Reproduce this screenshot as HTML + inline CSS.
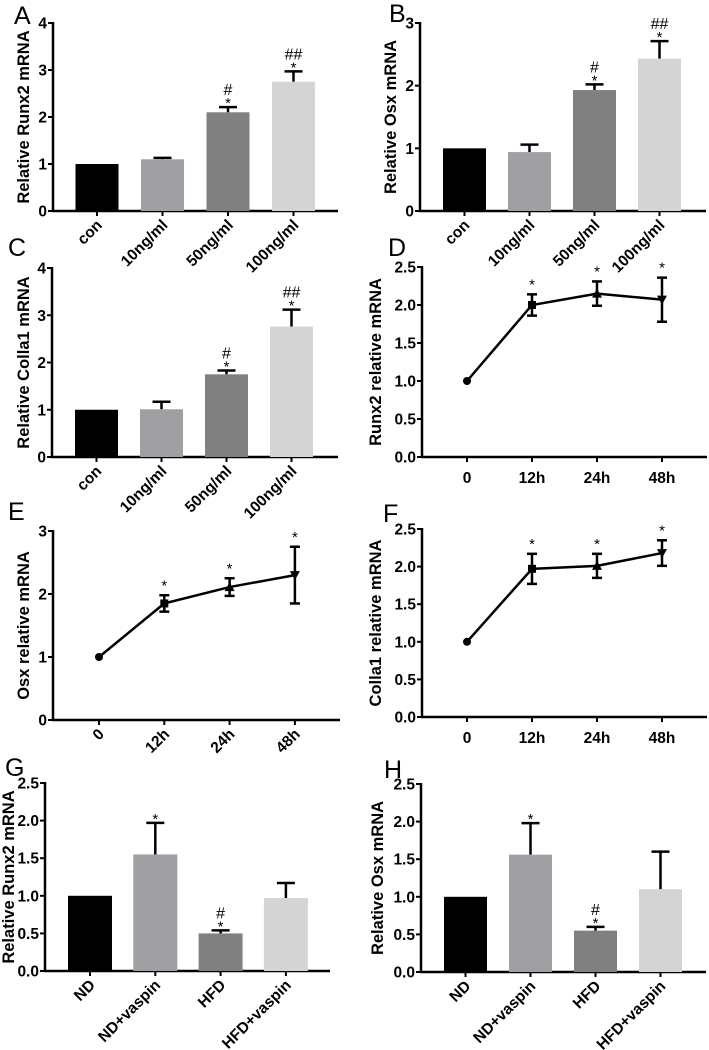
<!DOCTYPE html>
<html><head><meta charset="utf-8"><style>
html,body{margin:0;padding:0;background:#fff;}
svg{display:block;font-family:"Liberation Sans",Arial,sans-serif;}
</style></head><body>
<svg id="fig" width="709" height="1050" viewBox="0 0 709 1050"></svg>
<script>
// ---- data ----
const doseCats = ["con","10ng/ml","50ng/ml","100ng/ml"];
const timeCats = ["0","12h","24h","48h"];
const dietCats = ["ND","ND+vaspin","HFD","HFD+vaspin"];
const runx2Dose = [1, 1.1, 2.1, 2.75];
const runx2DoseErr = [0, 0.03, 0.11, 0.22];
const osxDose = [1, 0.94, 1.93, 2.43];
const osxDoseErr = [0, 0.12, 0.09, 0.28];
const collaDose = [1, 1.01, 1.75, 2.76];
const collaDoseErr = [0, 0.16, 0.08, 0.36];
const runx2Time = [1, 2.0, 2.15, 2.07];
const runx2TimeErr = [0, 0.14, 0.16, 0.29];
const osxTime = [1, 1.85, 2.11, 2.3];
const osxTimeErr = [0, 0.13, 0.14, 0.45];
const collaTime = [1, 1.97, 2.01, 2.18];
const collaTimeErr = [0, 0.2, 0.16, 0.17];
const runx2Diet = [1, 1.55, 0.5, 0.97];
const runx2DietErr = [0, 0.42, 0.04, 0.2];
const osxDiet = [1, 1.56, 0.55, 1.1];
const osxDietErr = [0, 0.42, 0.05, 0.5];
const ticks4 = ["0","1","2","3","4"];
const ticks3 = ["0","1","2","3"];
const ticks25 = ["0.0","0.5","1.0","1.5","2.0","2.5"];
const doseSig = [["",""],["",""],["*","#"],["*","##"]];
const timeSig = [["",""],["*",""],["*",""],["*",""]];
const dietSig = [["",""],["*",""],["*","#"],["",""]];
const barColors = ["#000000","#a0a0a4","#808080","#d4d4d4"];

const NS="http://www.w3.org/2000/svg";
const svg=document.getElementById('fig');
function mk(tag,attrs,parent){const e=document.createElementNS(NS,tag);for(const k in attrs)e.setAttribute(k,attrs[k]);(parent||svg).appendChild(e);return e;}

function panel(o){
  const g=mk('g',{});
  
  
  const maxV=parseFloat(o.ticks[o.ticks.length-1]);
  const y=v=>o.y0-(v/maxV)*(o.y0-o.yTop);
  const x=i=>o.xFirst+i*o.step;
  const L=mk('text',{x:o.lx,y:o.ly,'font-size':25,fill:'#000'},g);L.textContent=o.letter;
  
  
  const ya=mk('line',{x1:o.ax,y1:o.yTop-1,x2:o.ax,y2:o.y0+1,stroke:'#000','stroke-width':2.5},g);
  
  
  o.ticks.forEach(t=>{const v=parseFloat(t);const yy=y(v);
    mk('line',{x1:o.ax-5,y1:yy,x2:o.ax,y2:yy,stroke:'#000','stroke-width':2},g);
    const tt=mk('text',{x:o.ax-6,y:yy+5.5,'font-size':15.5,'font-weight':'bold','text-anchor':'end'},g);tt.textContent=t;
    
    
  });
  const yt=mk('text',{x:0,y:0,'font-size':16.5,'font-weight':'bold','text-anchor':'middle',transform:`translate(${o.titleX},${(o.y0+o.yTop)/2}) rotate(-90)`},g);
  yt.textContent=o.title;
  
  
  const xa=mk('line',{x1:o.ax-1,y1:o.y0,x2:o.xEnd,y2:o.y0,stroke:'#000','stroke-width':2.5},g);
  
  
  o.cats.forEach((c,i)=>{const cx=x(i);
    mk('line',{x1:cx,y1:o.y0,x2:cx,y2:o.y0+5,stroke:'#000','stroke-width':2},g);
    let t;
    if(o.rot){t=mk('text',{x:0,y:0,'font-size':15.5,'font-weight':'bold','text-anchor':'end',transform:`translate(${cx+6},${o.y0+15}) rotate(-45)`},g);}
    else{t=mk('text',{x:cx,y:o.y0+26,'font-size':15.5,'font-weight':'bold','text-anchor':'middle'},g);}
    t.textContent=c;
    
    
  });
  if(o.type==='bar'){
    o.vals.forEach((v,i)=>{const cx=x(i),top=y(v+o.err[i]);
      if(o.err[i]>0){mk('line',{x1:cx,y1:y(v),x2:cx,y2:top,stroke:'#000','stroke-width':2.5},g);
        mk('line',{x1:cx-9,y1:top,x2:cx+9,y2:top,stroke:'#000','stroke-width':2.5},g);}
      const b=mk('rect',{x:cx-o.bw/2,y:y(v),width:o.bw,height:o.y0-y(v),fill:barColors[i]},g);
      
      
      drawSig(g,o.sig[i],cx,top);
    });
  } else {
    let pts=o.vals.map((v,i)=>x(i)+','+y(v)).join(' ');
    const pl=mk('polyline',{points:pts,fill:'none',stroke:'#000','stroke-width':2.5},g);
    
    
    o.vals.forEach((v,i)=>{const cx=x(i),cy=y(v);
      if(o.err[i]>0){const a=y(v+o.err[i]),b=y(v-o.err[i]);
        mk('line',{x1:cx,y1:a,x2:cx,y2:b,stroke:'#000','stroke-width':2.5},g);
        mk('line',{x1:cx-5,y1:a,x2:cx+5,y2:a,stroke:'#000','stroke-width':2.5},g);
        mk('line',{x1:cx-5,y1:b,x2:cx+5,y2:b,stroke:'#000','stroke-width':2.5},g);}
      let m;
      if(i===0)m=mk('circle',{cx:cx,cy:cy,r:4},g);
      else if(i===1)m=mk('rect',{x:cx-4,y:cy-4,width:8,height:8},g);
      else if(i===2)m=mk('polygon',{points:`${cx},${cy-5} ${cx-5},${cy+4} ${cx+5},${cy+4}`},g);
      else m=mk('polygon',{points:`${cx},${cy+5} ${cx-5},${cy-4} ${cx+5},${cy-4}`},g);
      
      
      drawSig(g,o.sig[i],cx,y(v+o.err[i])-6);
    });
  }
}
function drawSig(g,s,cx,top){
  if(s[0]){const t=mk('text',{x:cx,y:top+1,'font-size':15,'text-anchor':'middle'},g);t.textContent=s[0];
    
    }
  if(s[1]){const t=mk('text',{x:cx,y:top-12,'font-size':16,'text-anchor':'middle'},g);t.textContent=s[1];
    
    }
}

panel({name:'panel-a',letter:'A',lx:14,ly:24,type:'bar',cats:doseCats,vals:runx2Dose,err:runx2DoseErr,sig:doseSig,ticks:ticks4,ax:53,yTop:23,y0:211,xEnd:338,xFirst:97,step:65.5,bw:43,rot:true,title:'Relative Runx2 mRNA',titleX:29});
panel({name:'panel-b',letter:'B',lx:389,ly:22,type:'bar',cats:doseCats,vals:osxDose,err:osxDoseErr,sig:doseSig,ticks:ticks3,ax:420,yTop:23,y0:211,xEnd:706,xFirst:464.5,step:65,bw:43,rot:true,title:'Relative Osx mRNA',titleX:396});
panel({name:'panel-c',letter:'C',lx:8,ly:256,type:'bar',cats:doseCats,vals:collaDose,err:collaDoseErr,sig:doseSig,ticks:ticks4,ax:52,yTop:268,y0:457,xEnd:338,xFirst:96.5,step:65,bw:43,rot:true,title:'Relative Colla1 mRNA',titleX:29});
panel({name:'panel-d',letter:'D',lx:388,ly:256,type:'line',cats:timeCats,vals:runx2Time,err:runx2TimeErr,sig:timeSig,ticks:ticks25,ax:422,yTop:267,y0:457,xEnd:707,xFirst:467,step:65,rot:false,title:'Runx2 relative mRNA',titleX:381});
panel({name:'panel-e',letter:'E',lx:8,ly:520,type:'line',cats:timeCats,vals:osxTime,err:osxTimeErr,sig:timeSig,ticks:ticks3,ax:53,yTop:531,y0:720,xEnd:340,xFirst:99,step:65.3,rot:true,title:'Osx relative mRNA',titleX:29});
panel({name:'panel-f',letter:'F',lx:383,ly:522,type:'line',cats:timeCats,vals:collaTime,err:collaTimeErr,sig:timeSig,ticks:ticks25,ax:422,yTop:529,y0:717,xEnd:707,xFirst:467,step:65,rot:false,title:'Colla1 relative mRNA',titleX:381});
panel({name:'panel-g',letter:'G',lx:5,ly:776,type:'bar',cats:dietCats,vals:runx2Diet,err:runx2DietErr,sig:dietSig,ticks:ticks25,ax:45,yTop:783,y0:971,xEnd:330,xFirst:90,step:65.3,bw:44,rot:true,title:'Relative Runx2 mRNA',titleX:14});
panel({name:'panel-h',letter:'H',lx:384,ly:778,type:'bar',cats:dietCats,vals:osxDiet,err:osxDietErr,sig:dietSig,ticks:ticks25,ax:421,yTop:784,y0:972,xEnd:706,xFirst:465.5,step:65,bw:43,rot:true,title:'Relative Osx mRNA',titleX:383});
</script>
</body></html>
